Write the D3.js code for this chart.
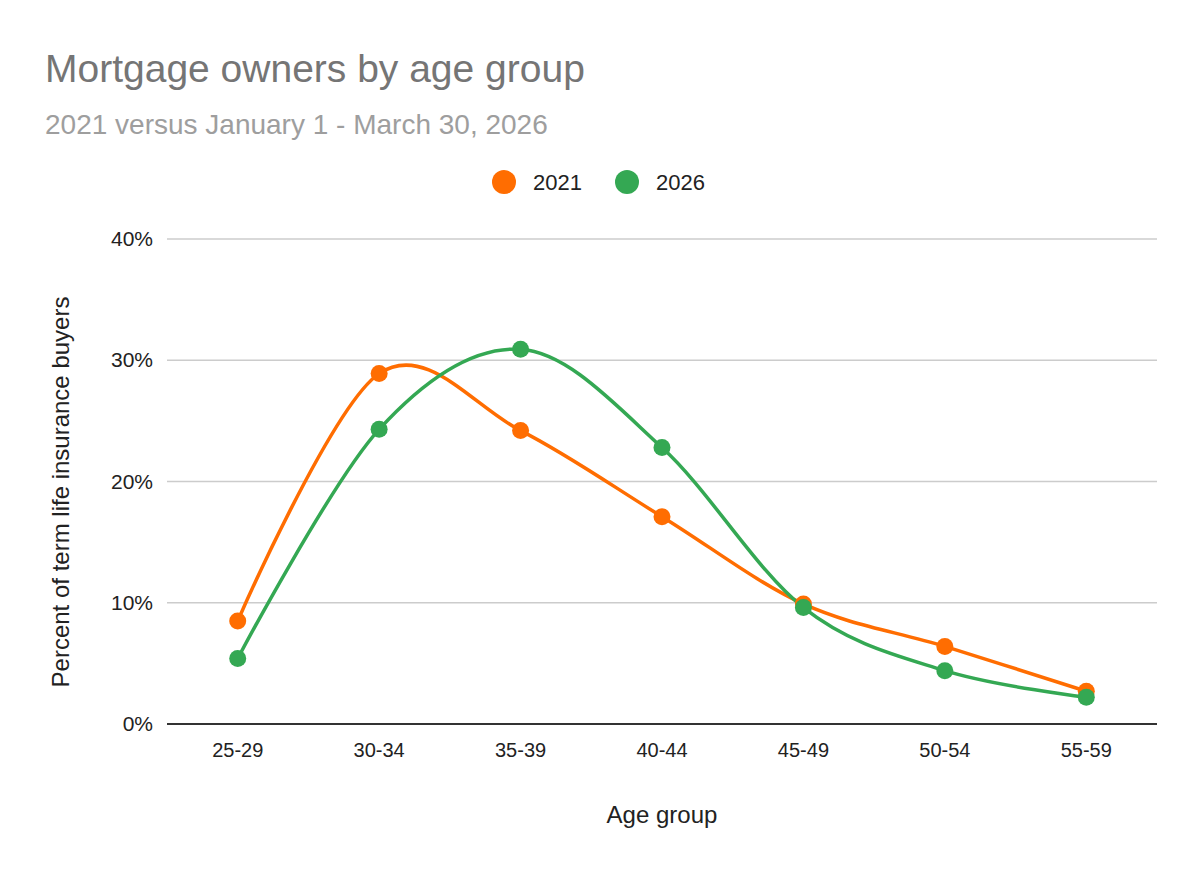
<!DOCTYPE html>
<html><head><meta charset="utf-8">
<script src="https://cdn.jsdelivr.net/npm/d3@7"></script>
<style>body{margin:0;background:#fff;}svg{display:block;font-family:"Liberation Sans",Arial,sans-serif;}</style>
</head><body><svg id="chart" width="1200" height="872"></svg>
<script>
const categories = ["25-29","30-34","35-39","40-44","45-49","50-54","55-59"];
const values2021 = [8.5, 28.9, 24.2, 17.1, 9.9, 6.4, 2.7];
const values2026 = [5.4, 24.3, 30.9, 22.8, 9.6, 4.4, 2.2];
const seriesNames = ["2021","2026"];
const yTicks = [0, 10, 20, 30, 40];

const colors = {"2021":"#ff6d01","2026":"#34a853"};
const series = [
  {name: seriesNames[0], values: values2021},
  {name: seriesNames[1], values: values2026}
];

const svg = d3.select("#chart");
const L = 167, R = 1157, T = 239, B = 724;
const x = d3.scaleBand().domain(categories).range([L, R]);
const y = d3.scaleLinear().domain([0, 40]).range([B, T]);

// title
svg.append("text").attr("x", 45).attr("y", 82).attr("font-size", 39).attr("fill", "#757575").text("Mortgage owners by age group");
svg.append("text").attr("x", 45).attr("y", 134).attr("font-size", 28).attr("fill", "#9e9e9e").text("2021 versus January 1 - March 30, 2026");

// legend
const legX = [504, 627];
series.forEach((s, i) => {
  svg.append("circle").attr("cx", legX[i]).attr("cy", 182).attr("r", 12).attr("fill", colors[s.name]);
  svg.append("text").attr("x", legX[i] + 29).attr("y", 190).attr("font-size", 22).attr("fill", "#222").text(s.name);
});

// grid
const gGrid = svg.append("g");
gGrid.selectAll("line").data(yTicks.filter(d => d > 0)).join("line")
  .attr("x1", L).attr("x2", R).attr("y1", d => y(d)).attr("y2", d => y(d))
  .attr("stroke", "#cccccc").attr("stroke-width", 1.5);

// y axis labels
const yAxis = d3.axisLeft(y).tickValues(yTicks).tickFormat(d => d + "%").tickSize(0).tickPadding(14);
const gy = svg.append("g").attr("transform", `translate(${L},0)`).call(yAxis);
gy.select(".domain").remove();
gy.selectAll("text").attr("font-size", 21).attr("fill", "#222").attr("font-family", "Liberation Sans, Arial, sans-serif");

// x axis
const xAxis = d3.axisBottom(x).tickSize(0).tickPadding(19);
const gx = svg.append("g").attr("transform", `translate(0,${B})`).call(xAxis);
gx.select(".domain").remove();
gx.selectAll("text").attr("font-size", 20).attr("fill", "#222").attr("font-family", "Liberation Sans, Arial, sans-serif");
svg.append("line").attr("x1", L).attr("x2", R).attr("y1", B).attr("y2", B).attr("stroke", "#333").attr("stroke-width", 2);

// axis titles
svg.append("text").attr("x", 662).attr("y", 823).attr("text-anchor", "middle").attr("font-size", 24).attr("fill", "#222").text("Age group");
svg.append("text").attr("transform", "translate(69,492) rotate(-90)").attr("text-anchor", "middle").attr("font-size", 24).attr("fill", "#222").text("Percent of term life insurance buyers");

// lines
const line = d3.line().x((d, i) => x(categories[i]) + x.bandwidth() / 2).y(d => y(d)).curve(d3.curveCatmullRom.alpha(0));
series.forEach(s => {
  svg.append("path").datum(s.values).attr("d", line).attr("fill", "none").attr("stroke", colors[s.name]).attr("stroke-width", 3.5);
});
series.forEach(s => {
  svg.append("g").selectAll("circle").data(s.values).join("circle")
    .attr("cx", (d, i) => x(categories[i]) + x.bandwidth() / 2).attr("cy", d => y(d)).attr("r", 8.5)
    .attr("fill", colors[s.name]);
});
</script></body></html>
